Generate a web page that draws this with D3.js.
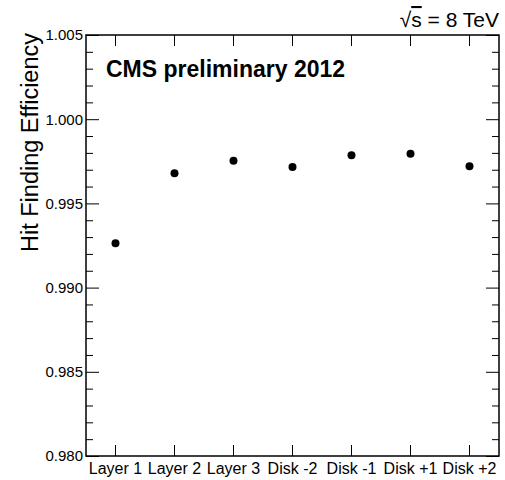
<!DOCTYPE html>
<html>
<head>
<meta charset="utf-8">
<script src="https://cdn.jsdelivr.net/npm/d3@7"></script>
<style>
  html, body { margin: 0; padding: 0; background: #fff; }
  svg { display: block; font-family: "Liberation Sans", Arial, Helvetica, sans-serif; }
</style>
</head>
<body>
<svg id="chart" width="505" height="480"></svg>
<script>
const categories = ["Layer 1", "Layer 2", "Layer 3", "Disk -2", "Disk -1", "Disk +1", "Disk +2"];
const efficiency = [0.99263, 0.99679, 0.99754, 0.99716, 0.99786, 0.99795, 0.99720];
const yMajorTicks = [0.980, 0.985, 0.990, 0.995, 1.000, 1.005];
const yMinorTicks = [0.981, 0.982, 0.983, 0.984, 0.986, 0.987, 0.988, 0.989,
                     0.991, 0.992, 0.993, 0.994, 0.996, 0.997, 0.998, 0.999,
                     1.001, 1.002, 1.003, 1.004];
const yTitle = "Hit Finding Efficiency";
const headerLabel = "CMS preliminary 2012";

const svg = d3.select("#chart");
const L = 86, R = 499, T = 35, B = 456;

const x = d3.scaleBand().domain(categories).range([L, R]).paddingInner(0).paddingOuter(0);
const y = d3.scaleLinear().domain([0.980, 1.005]).range([B, T]);

function styleAxis(g) {
  g.select(".domain").remove();
  g.selectAll("line").attr("stroke", "#000").attr("stroke-width", 1);
  g.selectAll("text").attr("fill", "#000");
}

// Left axis: majors with labels
svg.append("g").attr("transform", `translate(${L},0)`)
  .call(d3.axisLeft(y).tickValues(yMajorTicks).tickSize(-13).tickPadding(3).tickFormat(d3.format(".3f")))
  .call(styleAxis)
  .call(g => g.selectAll("text").attr("font-size", 15).attr("font-family", "Liberation Sans, Arial, sans-serif"));
svg.append("g").attr("transform", `translate(${L},0)`)
  .call(d3.axisLeft(y).tickValues(yMinorTicks).tickSize(-7).tickFormat(""))
  .call(styleAxis);

// Right axis mirrored
svg.append("g").attr("transform", `translate(${R},0)`)
  .call(d3.axisRight(y).tickValues(yMajorTicks).tickSize(-13).tickFormat(""))
  .call(styleAxis);
svg.append("g").attr("transform", `translate(${R},0)`)
  .call(d3.axisRight(y).tickValues(yMinorTicks).tickSize(-7).tickFormat(""))
  .call(styleAxis);

// Bottom axis
svg.append("g").attr("transform", `translate(0,${B})`)
  .call(d3.axisBottom(x).tickSize(-11).tickPadding(7))
  .call(styleAxis)
  .call(g => g.selectAll("text").attr("font-size", 16).attr("font-family", "Liberation Sans, Arial, sans-serif"));
// Top axis
svg.append("g").attr("transform", `translate(0,${T})`)
  .call(d3.axisTop(x).tickSize(-11).tickFormat(""))
  .call(styleAxis);

// Frame
svg.append("rect")
  .attr("x", L).attr("y", T).attr("width", R - L).attr("height", B - T)
  .attr("fill", "none").attr("stroke", "#000").attr("stroke-width", 1.5);

// Points
svg.append("g").selectAll("circle")
  .data(categories.map((c, i) => ({ c, v: efficiency[i] })))
  .join("circle")
  .attr("cx", d => x(d.c) + x.bandwidth() / 2)
  .attr("cy", d => y(d.v))
  .attr("r", 4)
  .attr("fill", "#000");

// Header label
svg.append("text")
  .attr("x", 106).attr("y", 77)
  .attr("font-size", 23).attr("font-weight", "bold")
  .attr("fill", "#000")
  .text(headerLabel);

// sqrt(s) = 8 TeV
const energy = svg.append("text")
  .attr("x", R).attr("y", 27)
  .attr("text-anchor", "end")
  .attr("font-size", 21)
  .attr("fill", "#000");
energy.append("tspan").text("\u221A");
energy.append("tspan").style("text-decoration", "overline").text("s");
energy.append("tspan").text(" = 8 TeV");

// Y title
svg.append("text")
  .attr("transform", `translate(38,${T - 2}) rotate(-90)`)
  .attr("text-anchor", "end")
  .attr("font-size", 23.5)
  .attr("fill", "#000")
  .text(yTitle);
</script>
</body>
</html>
